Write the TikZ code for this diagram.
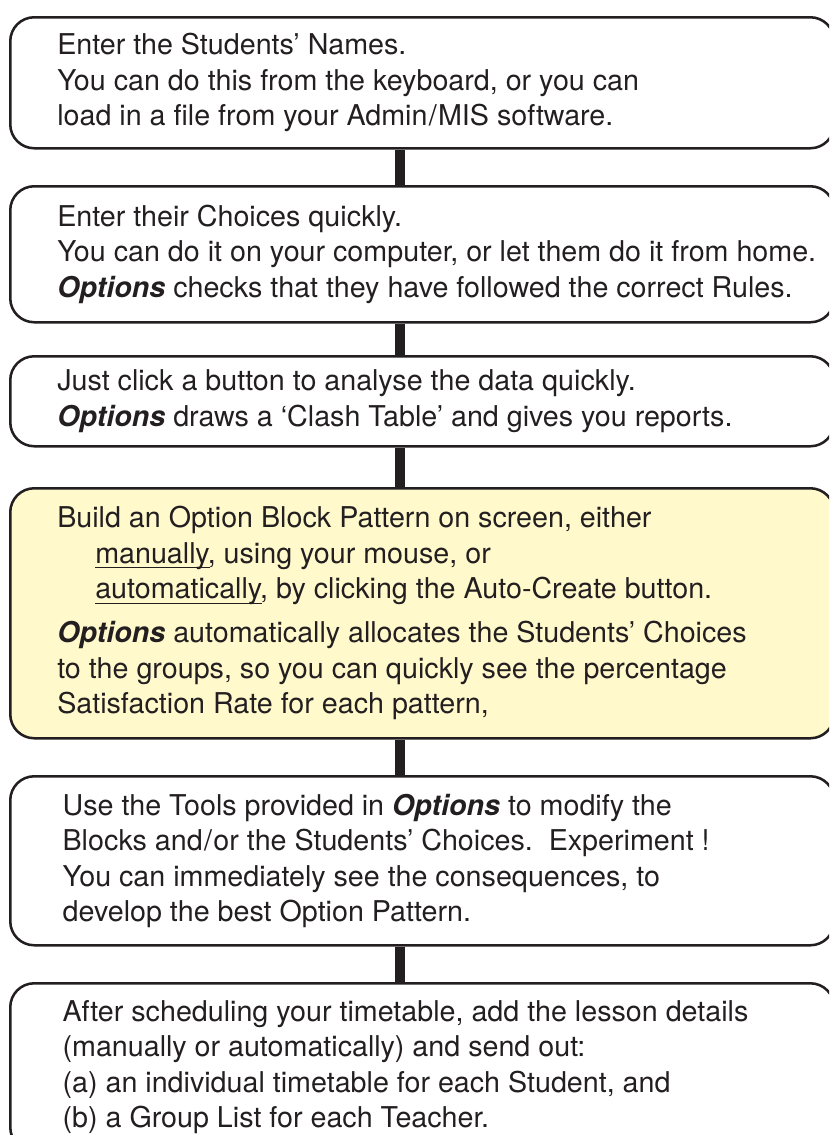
\documentclass[tikz,border=0pt]{standalone}
\usepackage{fontspec}
\setmainfont{TeX Gyre Heros}
\usetikzlibrary{positioning}
\definecolor{ink}{RGB}{35,31,32}
\definecolor{hilite}{RGB}{255,249,204}
\newcommand{\opts}{\textbf{\textit{Options}}}
\newcommand{\underlined}[1]{\setbox0\hbox{#1}\rlap{\rule[-3.8pt]{\wd0}{1pt}}#1}
\tikzset{
  stepbox/.style={draw=ink, line width=1.9pt, rounded corners=18pt,
    anchor=north west, minimum width=618pt, inner sep=0pt},
  steptext/.style={align=left, inner sep=0pt, text=ink,
    font=\fontsize{21.5}{26.6}\selectfont},
  link/.style={draw=ink, line width=7.5pt},
}
\begin{document}
\begin{tikzpicture}[x=0.75pt,y=-0.75pt]
\useasboundingbox (0,0) rectangle (829,1135);
\clip (0,0) rectangle (829,1135);
\coordinate (spine) at (400,0);
% the six steps
\node[stepbox, minimum height=98.25pt] (names) at (9,16) {};
\node[stepbox, minimum height=102pt] (choices) at (9,185) {};
\node[stepbox, minimum height=67.5pt] (analyse) at (9,355) {};
\node[stepbox, minimum height=187.5pt, fill=hilite] (pattern) at (9,487) {};
\node[stepbox, minimum height=126.75pt] (tools) at (9,775) {};
\node[stepbox, minimum height=126pt] (output) at (9,982) {};
% texts
\node[steptext, right=36pt of names.west] (namestext)
  {Enter the Students’ Names.\\
   You can do this from the keyboard, or you can\\
   load in a file from your Admin\kern1pt/\kern1ptMIS software.};
\node[steptext, right=36pt of choices.west] (choicestext)
  {Enter their Choices quickly.\\
   You can do it on your computer, or let them do it from home.\\
   \opts{} checks that they have followed the correct Rules.};
\node[steptext, right=36pt of analyse.west] (analysetext)
  {Just click a button to analyse the data quickly.\\
   \opts{} draws a ‘Clash Table’ and gives you reports.};
\node[steptext, right=36pt of pattern.west] (patterntext)
  {Build an Option Block Pattern on screen, either\\
   \hspace*{28.5pt}\underlined{manually}, using your mouse, or\\
   \hspace*{28.5pt}\underlined{automatically}, by clicking the Auto-Create button.\\[6.4pt]
   \opts{} automatically allocates the Students’ Choices\\
   to the groups, so you can quickly see the percentage\\
   Satisfaction Rate for each pattern,};
\node[steptext, right=40pt of tools.west] (toolstext)
  {Use the Tools provided in \opts{} to modify the\\
   Blocks and\kern1pt/\kern1ptor the Students’ Choices.\ \ Experiment !\\
   You can immediately see the consequences, to\\
   develop the best Option Pattern.};
\node[steptext, right=40pt of output.west] (outputtext)
  {After scheduling your timetable, add the lesson details\\
   (manually or automatically) and send out:\\
   (a) an individual timetable for each Student, and\\
   (b) a Group List for each Teacher.};
% links
\path[link]
  (names.south -| spine) edge (choices.north -| spine)
  (choices.south -| spine) edge (analyse.north -| spine)
  (analyse.south -| spine) edge (pattern.north -| spine)
  (pattern.south -| spine) edge (tools.north -| spine)
  (tools.south -| spine) edge (output.north -| spine);
\end{tikzpicture}
\end{document}
